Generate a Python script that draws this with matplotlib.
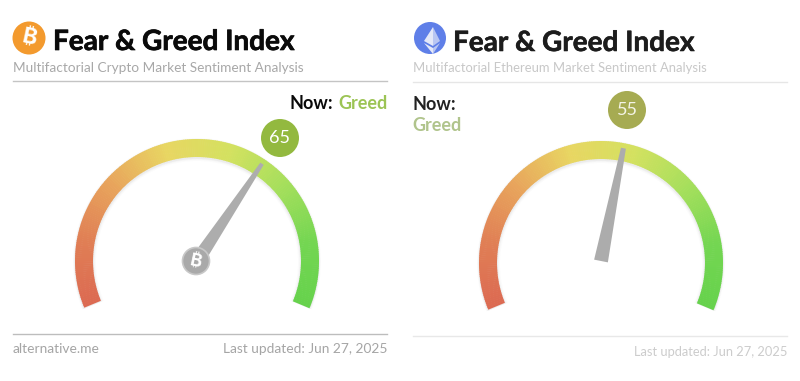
import numpy as np
import matplotlib
matplotlib.use('Agg')
import matplotlib.pyplot as plt
import matplotlib.patheffects as pe
from matplotlib.colors import LinearSegmentedColormap
from matplotlib.patches import Circle, Polygon, Wedge

plt.rcParams['font.family'] = ['Lato', 'Noto Sans', 'DejaVu Sans']

title = 'Fear & Greed Index'
subtitles = ['Multifactorial Crypto Market Sentiment Analysis',
             'Multifactorial Ethereum Market Sentiment Analysis']
values = [65, 55]
states = ['Greed', 'Greed']
updated = 'Last updated: Jun 27, 2025'
site = 'alternative.me'

START, END = 202.5, -22.5
cmap = LinearSegmentedColormap.from_list(
    'fg', ['#dc6a52', '#e07f55', '#e8a55c', '#e8d662', '#d4e160', '#a6df5c', '#74d652', '#66d24c'])


def ang(v):
    return START + (END - START) * v / 100


def gauge(ax, cx, cy):
    R, r = 122, 104
    # soft shadow under the ring (y axis is flipped, so angles are negated)
    for s, a in [(5, 0.02), (3, 0.03), (1.5, 0.05)]:
        ax.add_patch(Wedge((cx, cy + 1), R + s * 0.4, -START, -END, width=R - r + s,
                           fc='#555555', ec='none', alpha=a, zorder=1))
    # gradient ring, one thin wedge per step of the index
    steps = np.linspace(0, 100, 226)
    for a, b in zip(steps[:-1], steps[1:]):
        ax.add_patch(Wedge((cx, cy), R, -ang(a), -ang(b) + 0.3, width=R - r,
                           fc=cmap(a / 100), ec='none', zorder=2))


def needle(ax, cx, cy, value, length, w0, w1, color='#adadad'):
    t = np.radians(ang(value))
    d = np.array([np.cos(t), -np.sin(t)])
    n = np.array([-d[1], d[0]])
    c = np.array([cx, cy])
    tip = c + d * length
    pts = [c + n * w0, c - n * w0, tip - n * w1, tip + n * w1]
    ax.add_patch(Polygon(pts, closed=True, fc=color, ec='none', zorder=3))


def bitcoin(ax, x, y, r, fc, ec, size, tc='white'):
    ax.add_patch(Circle((x, y), r, fc=fc, ec=ec, lw=1.2, zorder=5))
    ax.text(x, y, '\u20bf', color=tc, fontsize=size, fontweight='bold', rotation=-12,
            ha='center', va='center', zorder=6,
            family=['Inter', 'Roboto', 'Noto Sans', 'Open Sans', 'Liberation Sans',
                    'DejaVu Sans', 'Noto Sans CJK SC'])


fig = plt.figure(figsize=(8, 3.81), dpi=100)
ax = fig.add_axes([0, 0, 1, 1])
ax.set_xlim(0, 800)
ax.set_ylim(381, 0)
ax.axis('off')

# left panel
bitcoin(ax, 29, 38, 16.5, '#f39a2e', 'none', 16)
t1 = ax.text(53, 50, title, fontsize=20.1, fontweight='bold', color='#0a0a0a', va='baseline')
t1.set_path_effects([pe.withStroke(linewidth=0.5, foreground='#0a0a0a')])
ax.text(13, 72, subtitles[0], fontsize=9.83, color='#a8a8a8', va='baseline')
ax.plot([13, 387], [81, 81], color='#c4c4c4', lw=1)
ax.text(333, 109, 'Now:', fontsize=13, fontweight='bold', color='#0a0a0a', ha='right', va='baseline')
ax.text(388, 109, states[0], fontsize=13, fontweight='bold', color='#9cc455', ha='right', va='baseline')
gauge(ax, 197, 261)
needle(ax, 197, 261, values[0], 117, 7, 2)
bitcoin(ax, 196, 261, 13.5, '#a9a9a9', '#c8c8c8', 13)
ax.add_patch(Circle((280, 138), 19, fc='#93b93f', ec='none', zorder=4))
ax.text(280, 138, str(values[0]), fontsize=13, color='white', ha='center', va='center', zorder=5)
ax.plot([13, 387], [334, 334], color='#bdbdbd', lw=1)
ax.text(13, 353, site, fontsize=9.9, color='#a5a5a5', va='baseline')
ax.text(387, 353, updated, fontsize=9.9, color='#a5a5a5', ha='right', va='baseline')

# right panel
ax.add_patch(Circle((430, 38), 16, fc='#5f7fe8', ec='none', zorder=5))
ax.add_patch(Polygon([(433, 27), (424, 41), (433, 46)], closed=True, fc='#e4e8f8', ec='none', zorder=6))
ax.add_patch(Polygon([(433, 27), (440, 41), (433, 46)], closed=True, fc='#b9c6f2', ec='none', zorder=6))
ax.add_patch(Polygon([(424, 43), (433, 54), (433, 48)], closed=True, fc='#e4e8f8', ec='none', zorder=6))
ax.add_patch(Polygon([(440, 43), (433, 54), (433, 48)], closed=True, fc='#b9c6f2', ec='none', zorder=6))
t2 = ax.text(453, 51, title, fontsize=20.1, fontweight='bold', color='#1c1c1c', va='baseline')
t2.set_path_effects([pe.withStroke(linewidth=0.4, foreground='#1c1c1c')])
ax.text(413, 72, subtitles[1], fontsize=9.4, color='#c8c8c8', va='baseline')
ax.plot([413, 787], [82, 82], color='#e6e6e6', lw=1)
ax.text(413, 110, 'Now:', fontsize=13, fontweight='bold', color='#222222', va='baseline')
ax.text(412.5, 131, states[1], fontsize=13, fontweight='bold', color='#b0c48c', va='baseline')
gauge(ax, 601, 263)
needle(ax, 601, 261, values[1], 115, 7, 2.5, '#acacac')
ax.add_patch(Circle((627, 110), 19, fc='#a6ab52', ec='none', zorder=4))
ax.text(627, 110, str(values[1]), fontsize=13, color='#f4f4e6', ha='center', va='center', zorder=5)
ax.plot([413, 787], [336, 336], color='#e8e8e8', lw=1)
ax.text(787, 356, updated, fontsize=9.3, color='#cccccc', ha='right', va='baseline')

fig.savefig('out.png', dpi=100)
